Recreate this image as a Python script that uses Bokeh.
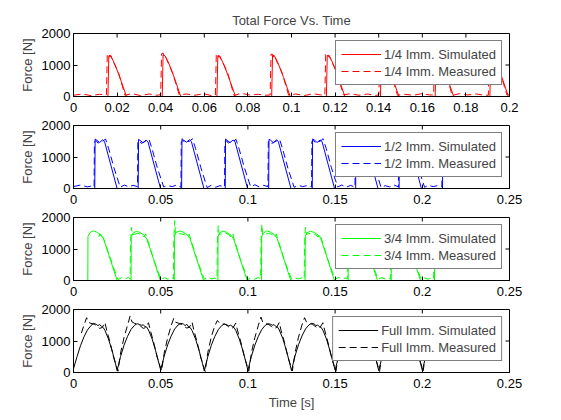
from math import pi

from bokeh.plotting import figure
from bokeh.layouts import column
from bokeh.models import (Legend, LegendItem, FixedTicker,
                          CustomJSTickFormatter, Range1d)
from bokeh.embed import file_html
from bokeh.resources import INLINE

FONT = "Liberation Sans"

# 1/4 immersion
quarter_sim_t = [0,
                 0.0158, 0.0162, 0.0170, 0.0188, 0.0213, 0.0243,
                 0.0407, 0.0411, 0.0419, 0.0437, 0.0462, 0.0492,
                 0.0658, 0.0662, 0.0670, 0.0688, 0.0713, 0.0743,
                 0.0909, 0.0913, 0.0921, 0.0939, 0.0964, 0.0994,
                 0.1160, 0.1164, 0.1172, 0.1190, 0.1215, 0.1245,
                 0.1408, 0.1412, 0.1420, 0.1438, 0.1463, 0.1493,
                 0.1659, 0.1663, 0.1671, 0.1689, 0.1714, 0.1744,
                 0.1910, 0.1914, 0.1922, 0.1940, 0.1965, 0.1995,
                 0.2000]
quarter_sim_f = [0,
                 0, 1290, 1310, 1050, 600, 0,
                 0, 1320, 1300, 1060, 610, 0,
                 0, 1300, 1290, 1040, 590, 0,
                 0, 1310, 1300, 1050, 600, 0,
                 0, 1300, 1310, 1060, 600, 0,
                 0, 1290, 1300, 1050, 590, 0,
                 0, 1310, 1300, 1040, 600, 0,
                 0, 1300, 1290, 1050, 610, 0,
                 0]
quarter_meas_t = [0, 0.004, 0.008, 0.012,
                  0.0151, 0.0155, 0.0162, 0.0167, 0.0171, 0.0183, 0.0193, 0.0208, 0.0223, 0.0236, 0.0268, 0.0308, 0.0348, 0.0383,
                  0.0400, 0.0404, 0.0411, 0.0416, 0.0420, 0.0432, 0.0442, 0.0457, 0.0472, 0.0485, 0.0517, 0.0557, 0.0597, 0.0632,
                  0.0651, 0.0655, 0.0662, 0.0667, 0.0671, 0.0683, 0.0693, 0.0708, 0.0723, 0.0736, 0.0768, 0.0808, 0.0848, 0.0883,
                  0.0902, 0.0906, 0.0913, 0.0918, 0.0922, 0.0934, 0.0944, 0.0959, 0.0974, 0.0987, 0.1019, 0.1059, 0.1099, 0.1134,
                  0.1153, 0.1157, 0.1164, 0.1169, 0.1173, 0.1185, 0.1195, 0.1210, 0.1225, 0.1238, 0.1270, 0.1310, 0.1350, 0.1385,
                  0.1401, 0.1405, 0.1412, 0.1417, 0.1421, 0.1433, 0.1443, 0.1458, 0.1473, 0.1486, 0.1518, 0.1558, 0.1598, 0.1633,
                  0.1652, 0.1656, 0.1663, 0.1668, 0.1672, 0.1684, 0.1694, 0.1709, 0.1724, 0.1737, 0.1769, 0.1809, 0.1849, 0.1884,
                  0.1903, 0.1907, 0.1914, 0.1919, 0.1923, 0.1935, 0.1945, 0.1960, 0.1975, 0.1988, 0.2000]
quarter_meas_f = [40, 80, 30, 70,
                  50, 1340, 1360, 1250, 1290, 1090, 960, 720, 360, 40, 90, 30, 80, 40,
                  60, 1360, 1380, 1260, 1300, 1100, 950, 700, 350, 50, 80, 40, 90, 30,
                  40, 1330, 1350, 1240, 1280, 1080, 970, 730, 370, 30, 100, 50, 70, 40,
                  50, 1340, 1340, 1250, 1300, 1090, 960, 710, 350, 40, 80, 30, 90, 50,
                  40, 1350, 1370, 1260, 1290, 1100, 950, 720, 360, 50, 90, 40, 80, 30,
                  60, 1330, 1350, 1240, 1280, 1080, 960, 700, 340, 40, 70, 40, 90, 50,
                  50, 1340, 1360, 1250, 1290, 1090, 970, 720, 360, 30, 90, 50, 80, 40,
                  40, 1350, 1360, 1260, 1300, 1100, 960, 710, 350, 50, 60]

# 1/2 immersion
half_sim_t = [0,
              0.0122, 0.0124, 0.0132, 0.0150, 0.0167, 0.0178, 0.0250,
              0.0371, 0.0373, 0.0381, 0.0399, 0.0416, 0.0427, 0.0499,
              0.0620, 0.0622, 0.0630, 0.0648, 0.0665, 0.0676, 0.0748,
              0.0870, 0.0872, 0.0880, 0.0898, 0.0915, 0.0926, 0.0998,
              0.1119, 0.1121, 0.1129, 0.1147, 0.1164, 0.1175, 0.1247,
              0.1369, 0.1371, 0.1379, 0.1397, 0.1414, 0.1425, 0.1497,
              0.1618, 0.1620, 0.1628, 0.1646, 0.1663, 0.1674, 0.1746,
              0.1867, 0.1869, 0.1877, 0.1895, 0.1912, 0.1923, 0.1995,
              0.2116, 0.2118]
half_sim_f = [0,
              0, 1570, 1540, 1460, 1545, 1490, 0,
              0, 1560, 1530, 1450, 1540, 1480, 0,
              0, 1580, 1540, 1470, 1550, 1490, 0,
              0, 1570, 1530, 1460, 1540, 1490, 0,
              0, 1560, 1540, 1450, 1550, 1480, 0,
              0, 1570, 1550, 1460, 1540, 1490, 0,
              0, 1580, 1530, 1470, 1545, 1480, 0,
              0, 1570, 1540, 1460, 1550, 1490, 0,
              0, 1570]
half_meas_t = [0, 0.004, 0.008, 0.011,
               0.0118, 0.0120, 0.0130, 0.0140, 0.0152, 0.0167, 0.0184, 0.0202, 0.0232, 0.0268, 0.0292, 0.0317, 0.0342,
               0.0367, 0.0369, 0.0379, 0.0389, 0.0401, 0.0416, 0.0433, 0.0451, 0.0481, 0.0517, 0.0541, 0.0566, 0.0591,
               0.0616, 0.0618, 0.0628, 0.0638, 0.0650, 0.0665, 0.0682, 0.0700, 0.0730, 0.0766, 0.0790, 0.0815, 0.0840,
               0.0866, 0.0868, 0.0878, 0.0888, 0.0900, 0.0915, 0.0932, 0.0950, 0.0980, 0.1016, 0.1040, 0.1065, 0.1090,
               0.1115, 0.1117, 0.1127, 0.1137, 0.1149, 0.1164, 0.1181, 0.1199, 0.1229, 0.1265, 0.1289, 0.1314, 0.1339,
               0.1365, 0.1367, 0.1377, 0.1387, 0.1399, 0.1414, 0.1431, 0.1449, 0.1479, 0.1515, 0.1539, 0.1564, 0.1589,
               0.1614, 0.1616, 0.1626, 0.1636, 0.1648, 0.1663, 0.1680, 0.1698, 0.1728, 0.1764, 0.1788, 0.1813, 0.1838,
               0.1863, 0.1865, 0.1875, 0.1885, 0.1897, 0.1912, 0.1929, 0.1947, 0.1977, 0.2013, 0.2037, 0.2062, 0.2087,
               0.2112, 0.2114]
half_meas_f = [60, 110, 50, 90,
               50, 1480, 1520, 1440, 1480, 1500, 1570, 1260, 660, 40, 110, 50, 100,
               60, 1490, 1510, 1430, 1470, 1510, 1560, 1250, 650, 50, 90, 60, 110,
               40, 1470, 1530, 1450, 1490, 1500, 1580, 1270, 670, 30, 100, 40, 90,
               50, 1480, 1510, 1440, 1480, 1490, 1560, 1250, 660, 50, 120, 50, 100,
               60, 1490, 1520, 1430, 1470, 1510, 1570, 1260, 650, 40, 100, 60, 90,
               50, 1500, 1520, 1450, 1480, 1500, 1580, 1270, 660, 50, 110, 40, 100,
               40, 1480, 1510, 1440, 1490, 1500, 1560, 1250, 670, 30, 90, 50, 110,
               50, 1490, 1520, 1430, 1480, 1510, 1570, 1260, 650, 40, 100, 60, 90,
               50, 1480]

# 3/4 immersion
three_q_sim_t = [0,
                 0.0082, 0.0083, 0.0094, 0.0112, 0.0132, 0.0157, 0.0172, 0.0212, 0.0250,
                 0.0330, 0.0331, 0.0342, 0.0360, 0.0380, 0.0405, 0.0420, 0.0460, 0.0498,
                 0.0578, 0.0579, 0.0590, 0.0608, 0.0628, 0.0653, 0.0668, 0.0708, 0.0746,
                 0.0828, 0.0829, 0.0840, 0.0858, 0.0878, 0.0903, 0.0918, 0.0958, 0.0996,
                 0.1078, 0.1079, 0.1090, 0.1108, 0.1128, 0.1153, 0.1168, 0.1208, 0.1246,
                 0.1328, 0.1329, 0.1340, 0.1358, 0.1378, 0.1403, 0.1418, 0.1458, 0.1496,
                 0.1575, 0.1576, 0.1587, 0.1605, 0.1625, 0.1650, 0.1665, 0.1705, 0.1743,
                 0.1822, 0.1823, 0.1834, 0.1852, 0.1872, 0.1897, 0.1912, 0.1952, 0.1990,
                 0.2070, 0.2071, 0.2078]
three_q_sim_f = [0,
                 0, 1400, 1520, 1575, 1540, 1450, 1330, 650, 0,
                 0, 1390, 1510, 1560, 1530, 1440, 1320, 660, 0,
                 0, 1410, 1530, 1570, 1540, 1450, 1330, 650, 0,
                 0, 1400, 1520, 1565, 1530, 1440, 1320, 640, 0,
                 0, 1390, 1510, 1575, 1540, 1450, 1330, 650, 0,
                 0, 1410, 1520, 1560, 1530, 1440, 1330, 660, 0,
                 0, 1400, 1530, 1570, 1540, 1450, 1320, 650, 0,
                 0, 1390, 1520, 1565, 1530, 1440, 1330, 640, 0,
                 0, 1400, 1480]
three_q_meas_t = [0.0145, 0.0150, 0.0153, 0.0157, 0.0162, 0.0172, 0.0212, 0.0254, 0.0275, 0.0295, 0.0315,
                  0.0325, 0.0327, 0.0332, 0.0337, 0.0350, 0.0370, 0.0390, 0.0405, 0.0415, 0.0425, 0.0460, 0.0502, 0.0522, 0.0542, 0.0562,
                  0.0573, 0.0575, 0.0580, 0.0585, 0.0598, 0.0618, 0.0638, 0.0653, 0.0663, 0.0673, 0.0708, 0.0750, 0.0770, 0.0790, 0.0810,
                  0.0823, 0.0825, 0.0830, 0.0835, 0.0848, 0.0868, 0.0888, 0.0903, 0.0913, 0.0923, 0.0958, 0.1000, 0.1020, 0.1040, 0.1060,
                  0.1073, 0.1075, 0.1080, 0.1085, 0.1098, 0.1118, 0.1138, 0.1153, 0.1163, 0.1173, 0.1208, 0.1250, 0.1270, 0.1290, 0.1310,
                  0.1323, 0.1325, 0.1330, 0.1335, 0.1348, 0.1368, 0.1388, 0.1403, 0.1413, 0.1423, 0.1458, 0.1500, 0.1520, 0.1540, 0.1560,
                  0.1570, 0.1572, 0.1577, 0.1582, 0.1595, 0.1615, 0.1635, 0.1650, 0.1660, 0.1670, 0.1705, 0.1747, 0.1767, 0.1787, 0.1807,
                  0.1817, 0.1819, 0.1824, 0.1829, 0.1842, 0.1862, 0.1882, 0.1897, 0.1907, 0.1917, 0.1952, 0.1994, 0.2014, 0.2034, 0.2054,
                  0.2065, 0.2067]
three_q_meas_f = [1380, 1480, 1420, 1500, 1400, 1340, 700, 30, 90, 40, 100,
                  40, 1200, 1690, 1450, 1470, 1500, 1460, 1380, 1480, 1290, 660, 30, 90, 40, 100,
                  50, 1250, 1900, 1470, 1490, 1480, 1450, 1390, 1470, 1300, 670, 40, 100, 50, 80,
                  40, 1220, 1740, 1460, 1480, 1510, 1470, 1380, 1490, 1280, 650, 30, 90, 40, 100,
                  50, 1230, 1790, 1450, 1470, 1500, 1460, 1370, 1480, 1290, 660, 40, 80, 50, 90,
                  40, 1210, 1690, 1460, 1490, 1490, 1450, 1380, 1470, 1300, 670, 30, 100, 40, 80,
                  50, 1220, 1750, 1450, 1480, 1500, 1460, 1390, 1480, 1290, 650, 40, 90, 50, 100,
                  40, 1230, 1720, 1460, 1470, 1510, 1470, 1380, 1490, 1280, 660, 30, 80, 40, 90,
                  50, 1200]

# full immersion
full_sim_t = [0, 0.002, 0.004, 0.006, 0.008, 0.010, 0.0115, 0.013, 0.014, 0.015, 0.016, 0.017, 0.018, 0.020, 0.022, 0.024,
              0.025, 0.027, 0.029, 0.031, 0.033, 0.035, 0.0365, 0.038, 0.039, 0.040, 0.041, 0.042, 0.043, 0.045, 0.047, 0.049,
              0.050, 0.052, 0.054, 0.056, 0.058, 0.060, 0.0615, 0.063, 0.064, 0.065, 0.066, 0.067, 0.068, 0.070, 0.072, 0.074,
              0.075, 0.077, 0.079, 0.081, 0.083, 0.085, 0.0865, 0.088, 0.089, 0.090, 0.091, 0.092, 0.093, 0.095, 0.097, 0.099,
              0.100, 0.102, 0.104, 0.106, 0.108, 0.110, 0.1115, 0.113, 0.114, 0.115, 0.116, 0.117, 0.118, 0.120, 0.122, 0.124,
              0.125, 0.127, 0.129, 0.131, 0.133, 0.135, 0.1365, 0.138, 0.139, 0.140, 0.141, 0.142, 0.143, 0.145, 0.147, 0.149,
              0.150, 0.152, 0.154, 0.156, 0.158, 0.160, 0.1615, 0.163, 0.164, 0.165, 0.166, 0.167, 0.168, 0.170, 0.172, 0.174,
              0.175, 0.177, 0.179, 0.181, 0.183, 0.185, 0.1865, 0.188, 0.189, 0.190, 0.191, 0.192, 0.193, 0.195, 0.197, 0.199,
              0.200, 0.202, 0.204]
full_sim_f = [120, 500, 850, 1130, 1350, 1490, 1560, 1530, 1490, 1520, 1470, 1430, 1340, 1070, 720, 300,
              60, 510, 870, 1150, 1370, 1500, 1550, 1520, 1500, 1510, 1460, 1440, 1350, 1080, 710, 290,
              80, 520, 880, 1160, 1380, 1510, 1560, 1540, 1490, 1530, 1450, 1420, 1330, 1060, 700, 280,
              50, 500, 860, 1140, 1360, 1490, 1540, 1510, 1480, 1500, 1470, 1430, 1340, 1070, 720, 300,
              70, 510, 870, 1150, 1370, 1500, 1550, 1530, 1500, 1520, 1460, 1440, 1350, 1080, 710, 290,
              60, 520, 880, 1160, 1380, 1510, 1560, 1540, 1490, 1510, 1450, 1430, 1340, 1070, 700, 280,
              80, 500, 860, 1140, 1360, 1490, 1550, 1520, 1480, 1500, 1460, 1440, 1350, 1080, 720, 300,
              60, 510, 870, 1150, 1370, 1500, 1560, 1530, 1500, 1520, 1470, 1430, 1340, 1070, 710, 290,
              70, 510, 870]
full_meas_t = [0.0045, 0.006, 0.0075, 0.0085, 0.010, 0.012, 0.0135, 0.015, 0.0165, 0.018, 0.019, 0.021, 0.023,
               0.0255, 0.027, 0.029, 0.031, 0.0325, 0.0335, 0.035, 0.037, 0.0385, 0.040, 0.0415, 0.043, 0.044, 0.046, 0.048,
               0.0505, 0.052, 0.054, 0.056, 0.0575, 0.0585, 0.060, 0.062, 0.0635, 0.065, 0.0665, 0.068, 0.069, 0.071, 0.073,
               0.0755, 0.077, 0.079, 0.081, 0.0825, 0.0835, 0.085, 0.087, 0.0885, 0.090, 0.0915, 0.093, 0.094, 0.096, 0.098,
               0.1005, 0.102, 0.104, 0.106, 0.1075, 0.1085, 0.110, 0.112, 0.1135, 0.115, 0.1165, 0.118, 0.119, 0.121, 0.123,
               0.1255, 0.127, 0.129, 0.131, 0.1325, 0.1335, 0.135, 0.137, 0.1385, 0.140, 0.1415, 0.143, 0.144, 0.146, 0.148,
               0.1505, 0.152, 0.154, 0.156, 0.1575, 0.1585, 0.160, 0.162, 0.1635, 0.165, 0.1665, 0.168, 0.169, 0.171, 0.173,
               0.1755, 0.177, 0.179, 0.181, 0.1825, 0.1835, 0.185, 0.187, 0.1885, 0.190, 0.1915, 0.193, 0.194, 0.196, 0.198,
               0.2005, 0.202, 0.204]
full_meas_f = [1250, 1500, 1740, 1600, 1560, 1530, 1470, 1400, 1430, 1590, 1350, 950, 480,
               40, 620, 1120, 1500, 1800, 1610, 1560, 1530, 1470, 1400, 1430, 1580, 1350, 950, 480,
               50, 610, 1100, 1490, 1720, 1600, 1570, 1520, 1460, 1410, 1440, 1600, 1340, 940, 470,
               30, 630, 1130, 1480, 1650, 1580, 1550, 1530, 1470, 1400, 1420, 1570, 1350, 960, 490,
               40, 620, 1110, 1500, 1760, 1600, 1560, 1520, 1460, 1390, 1430, 1590, 1340, 950, 480,
               50, 610, 1120, 1510, 1740, 1610, 1570, 1530, 1470, 1400, 1440, 1580, 1350, 940, 470,
               40, 620, 1110, 1490, 1730, 1600, 1560, 1520, 1460, 1410, 1430, 1590, 1340, 950, 480,
               30, 630, 1120, 1500, 1750, 1610, 1550, 1530, 1470, 1400, 1420, 1580, 1350, 960, 490,
               50, 620, 1120]

ticks_02 = [0, 0.02, 0.04, 0.06, 0.08, 0.1, 0.12, 0.14, 0.16, 0.18, 0.2]
ticks_025 = [0, 0.05, 0.1, 0.15, 0.2, 0.25]
y_ticks = [0, 1000, 2000]


def style_axis(ax, ticks):
    ax.ticker = FixedTicker(ticks=ticks)
    ax.formatter = CustomJSTickFormatter(code="return String(tick)")
    ax.axis_line_color = "black"
    ax.major_tick_line_color = "black"
    ax.major_tick_in = 4
    ax.major_tick_out = 0
    ax.minor_tick_line_color = None
    ax.major_label_text_font = FONT
    ax.major_label_text_font_size = "13px"
    ax.major_label_text_color = "black"
    ax.axis_label_text_font = FONT
    ax.axis_label_text_font_style = "normal"
    ax.axis_label_text_font_size = "13px"


def make_panel(sim_t, sim_f, meas_t, meas_f, color, name, x_max, x_ticks,
               top=8, bottom=21, title=None, xlabel=None):
    p = figure(frame_width=436, frame_height=63,
               x_range=Range1d(0, x_max), y_range=Range1d(0, 2000),
               output_backend="svg", toolbar_location=None,
               min_border_left=73, min_border_right=44,
               min_border_top=top, min_border_bottom=bottom)
    p.grid.visible = False
    p.outline_line_color = "black"
    p.background_fill_color = "white"
    p.border_fill_color = "white"

    r1 = p.line(sim_t, sim_f, color=color, line_width=1)
    r2 = p.line(meas_t, meas_f, color=color, line_width=1, line_dash="7 4")

    style_axis(p.xaxis[0], x_ticks)
    p.xaxis[0].major_label_standoff = 6
    style_axis(p.yaxis[0], y_ticks)
    p.yaxis[0].major_label_standoff = 3
    p.yaxis[0].axis_label = "Force [N]"
    p.yaxis[0].axis_label_standoff = 4
    if xlabel:
        p.xaxis[0].axis_label = xlabel
        p.xaxis[0].axis_label_standoff = 4

    # inward ticks on the top and right edges of the box
    p.ray(x=x_ticks, y=[2000] * len(x_ticks), length=4, length_units="screen",
          angle=-pi / 2, color="black", line_width=1)
    p.ray(x=[x_max] * len(y_ticks), y=y_ticks, length=4, length_units="screen",
          angle=pi, color="black", line_width=1)

    if title:
        p.title.text = title
        p.title.align = "center"
        p.title.text_font = FONT
        p.title.text_font_size = "13px"
        p.title.text_font_style = "normal"
        p.title.standoff = 11

    legend = Legend(items=[LegendItem(label=f"{name} Imm. Simulated", renderers=[r1]),
                           LegendItem(label=f"{name} Imm. Measured", renderers=[r2])],
                    location="top_right")
    legend.label_text_font = FONT
    legend.label_text_font_size = "13px"
    legend.border_line_color = "black"
    legend.border_line_width = 1
    legend.background_fill_color = "white"
    legend.background_fill_alpha = 1
    legend.margin = 7
    legend.padding = 5
    legend.spacing = 1
    legend.glyph_width = 40
    legend.glyph_height = 16
    legend.label_height = 16
    legend.label_standoff = 3
    p.add_layout(legend)
    return p


p1 = make_panel(quarter_sim_t, quarter_sim_f, quarter_meas_t, quarter_meas_f,
                "red", "1/4", 0.2, ticks_02, top=33, title="Total Force Vs. Time")
p2 = make_panel(half_sim_t, half_sim_f, half_meas_t, half_meas_f,
                "blue", "1/2", 0.25, ticks_025)
p3 = make_panel(three_q_sim_t, three_q_sim_f, three_q_meas_t, three_q_meas_f,
                "#00ff00", "3/4", 0.25, ticks_025)
p4 = make_panel(full_sim_t, full_sim_f, full_meas_t, full_meas_f,
                "black", "Full", 0.25, ticks_025, bottom=38, xlabel="Time [s]")

layout = column(p1, p2, p3, p4)
open("out.html", "w").write(file_html(layout, INLINE))
